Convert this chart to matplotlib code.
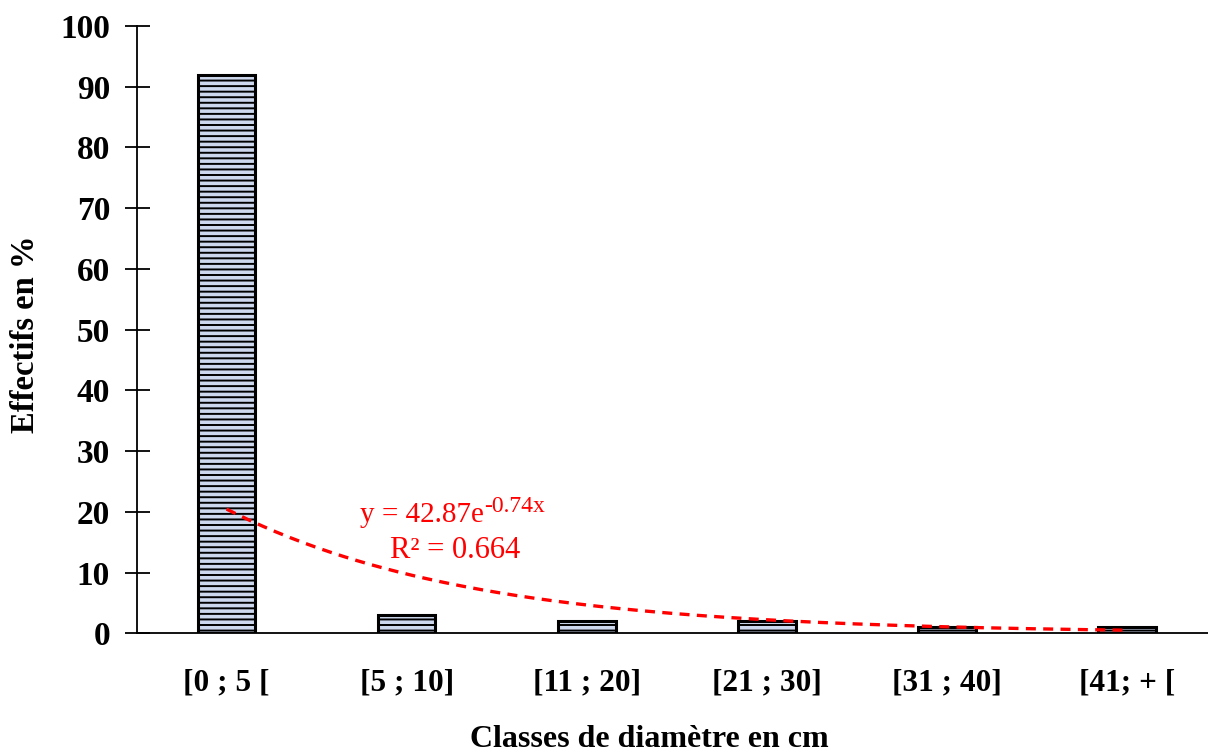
import numpy as np
import matplotlib
matplotlib.use("Agg")
import matplotlib.pyplot as plt

categories = ["[0 ; 5 [", "[5 ; 10]", "[11 ; 20]", "[21 ; 30]", "[31 ; 40]", "[41; + ["]
values = [92, 3, 2, 2, 1, 1]
trend_a = 42.87
trend_b = -0.74
eq_main = "y = 42.87e"
eq_sup = "-0.74x"
eq_r2 = "R² = 0.664"

plt.rcParams["font.family"] = ["Liberation Serif", "DejaVu Serif"]
plt.rcParams["hatch.color"] = "#1f3a78"
plt.rcParams["hatch.linewidth"] = 1.4

fig = plt.figure(figsize=(12.08, 7.53), dpi=100)
ax = fig.add_axes([0.113, 0.159, 0.887, 0.8065])

x = np.arange(len(categories))
ax.bar(x, values, width=0.32, facecolor="#cdd8ee", edgecolor="black",
       linewidth=2.2, hatch="---")

xt = np.linspace(1, len(categories), 200)
ax.plot(xt - 1, trend_a * np.exp(trend_b * xt), color="#ff0000",
        linestyle=(0, (3, 2.2)), linewidth=2.4)

t1 = ax.text(0.74, 18.3, eq_main, color="#ff0000", fontsize=21,
             ha="left", va="baseline")
ax.annotate(eq_sup, xy=(1, 0), xycoords=t1, xytext=(0, 16),
            textcoords="offset pixels", color="#ff0000", fontsize=17,
            ha="left", va="baseline")
ax.text(1.267, 12.4, eq_r2, color="#ff0000", fontsize=22,
        ha="center", va="baseline")

ax.set_xlim(-0.5, 5.45)
ax.set_ylim(0, 100)
ax.set_yticks(np.arange(0, 101, 10))
ax.set_xticks(x)
ax.set_xticklabels(categories, fontsize=22.5, fontweight="bold")
ax.tick_params(axis="x", length=0, pad=25)
ax.tick_params(axis="y", direction="inout", length=18, width=1.3,
               labelsize=24, pad=10)
for lab in ax.get_yticklabels():
    lab.set_fontweight("bold")
for s in ["top", "right"]:
    ax.spines[s].set_visible(False)
ax.spines["left"].set_linewidth(1.3)
ax.spines["bottom"].set_linewidth(1.3)

fig.text(25 / 1208, 1 - 334 / 753, "Effectifs en %", rotation=90,
         fontsize=23.5, fontweight="bold", ha="center", va="center")
fig.text(649 / 1208, 1 - 747 / 753, "Classes de diamètre en cm",
         fontsize=23, fontweight="bold", ha="center", va="baseline")

fig.savefig("out.png", dpi=100)
